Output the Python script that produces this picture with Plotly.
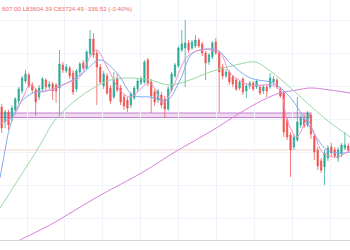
import plotly.graph_objects as go

# ---- candle data (BTC, price) ----
opens = [84154,84004,84104,84044,84124,84214,84314,84414,84474,84374,84324,84254,84334,84424,84354,84384,84374,84344,84574,84514,
         84544,84494,84334,84504,84594,84544,84684,84834,84694,84554,84364,84464,84344,84254,84444,84344,84254,84224,84174,84244,
         84334,84394,84404,84624,84404,84304,84224,84274,84234,84134,84324,84464,84564,84724,84744,84794,84744,84764,84824,84784,
         84694,84604,84654,84804,84694,84554,84464,84504,84454,84424,84344,84434,84314,84364,84394,84354,84354,84314,84354,84354,
         84404,84424,84334,84294,84024,83874,83754,83824,83974,84054,83974,84074,83864,83724,83614,83554,83644,83754,83724,83644,
         83684,83744,83764]
highs = [84184,84124,84124,84174,84254,84354,84464,84524,84494,84404,84344,84374,84454,84444,84414,84404,84394,84724,84604,84584,
         84564,84524,84534,84604,84624,84724,84924,84894,84724,84584,84514,84494,84374,84504,84494,84374,84284,84254,84304,84364,
         84434,84464,84624,84644,84434,84334,84334,84304,84264,84364,84504,84594,84764,84924,85024,84824,84824,84874,84844,84804,
         84714,84694,84814,84844,84714,84584,84534,84524,84474,84444,84424,84454,84384,84414,84414,84434,84374,84374,84374,84494,
         84464,84444,84354,84314,84044,83904,83884,84254,84074,84084,84114,84104,83894,83754,83644,83724,83774,83794,83754,83754,
         83794,83904,83794]
lows = [83894,83944,83924,84014,84094,84184,84284,84394,84344,84294,84064,84224,84314,84324,84334,84224,84194,84064,84494,84494,
        84434,84274,84304,84474,84524,84524,84664,84644,84174,84374,84334,84274,84184,84234,84304,84174,84124,84104,84144,84224,
        84304,84374,84384,84364,84094,84164,84194,84144,84044,84114,84304,84444,84544,84704,84354,84694,84724,84744,84744,84664,
        84424,84574,84634,84674,84104,84434,84444,84374,84354,84314,84324,84274,84244,84334,84314,84334,84274,84284,84254,84334,
        84374,84334,84244,83854,83824,83454,83724,83804,83944,83944,83954,83834,83624,83524,83494,83374,83614,83664,83644,83604,
        83654,83724,83694]
closes = [83944,84104,83974,84144,84234,84334,84444,84484,84364,84324,84204,84344,84434,84354,84384,84314,84314,84584,84524,84554,
          84464,84304,84514,84584,84544,84704,84834,84674,84554,84404,84484,84294,84214,84424,84324,84204,84164,84144,84284,84344,
          84414,84434,84604,84394,84264,84204,84314,84174,84134,84334,84484,84574,84744,84784,84794,84724,84804,84824,84764,84694,
          84594,84674,84794,84694,84504,84464,84504,84404,84384,84334,84404,84304,84364,84394,84334,84414,84294,84354,84314,84444,
          84434,84354,84264,83904,83854,83724,83854,84004,84044,83964,84094,83884,83704,83564,83524,83694,83744,83694,83664,83724,
          83774,83774,83724.49]

# ---- moving averages (x = candle index, y = price) ----
ma_fast_x = [-0.5, 3.3, 6.3, 8.3, 11.3, 14.2, 19.2, 23.0, 26.0, 28.0, 31.0, 34.8, 37.8, 43.6, 47.5, 50.4, 54.5, 58.4, 64.2, 67.2,
             73.1, 79.0, 81.9, 84.0, 86.9, 89.9, 91.6, 94.6, 98.7, 102.5]
ma_fast_y = [83994, 84054, 84254, 84374, 84304, 84324, 84394, 84454, 84654, 84724, 84554, 84324, 84254, 84394, 84194, 84354, 84654,
             84724, 84694, 84494, 84374, 84374, 84324, 84024, 83854, 84024, 83924, 83694, 83654, 83724]
ma_mid_x = [-0.5, 1.0, 2.4, 5.4, 9.2, 14.2, 19.2, 23.9, 28.9, 33.9, 38.6, 43.6, 48.7, 52.5, 56.3, 63.4, 67.2, 73.1, 79.8, 84.8,
            90.7, 95.7, 99.6, 102.5]
ma_mid_y = [83444, 83724, 83954, 84194, 84294, 84324, 84394, 84494, 84624, 84494, 84274, 84254, 84224, 84424, 84694, 84724, 84594,
            84444, 84394, 84254, 83954, 83724, 83694, 83704]
ma_slow_x = [-0.5, 10.4, 15.7, 20.1, 26.0, 31.9, 37.8, 43.6, 49.5, 55.4, 61.3, 70.1, 74.5, 79.8, 85.7, 89.9, 95.7, 102.5]
ma_slow_y = [83144, 83724, 84024, 84174, 84324, 84424, 84444, 84424, 84374, 84424, 84504, 84584, 84604, 84494, 84324, 84194, 84024,
             83854]
ma_long_x = [-0.5, 5.4, 14.2, 28.1, 41.6, 51.0, 62.2, 70.1, 76.9, 81.9, 86.9, 90.7, 96.6, 102.5]
ma_long_y = [82704, 82824, 82974, 83254, 83504, 83704, 83924, 84094, 84224, 84294, 84324, 84344, 84324, 84294]

# drawn zone (rectangle) and legend text
zone_top = 84094
zone_bottom = 84049
zone_start = -1.0
zone_end = 90.7
legend_text = "607.00 L83604.39 C83724.49 -336.52 (-0.40%)"

GREEN = "#2aa995"
RED = "#ef5350"

idx = list(range(len(opens)))
fig = go.Figure()

fig.add_trace(go.Scatter(x=ma_long_x, y=ma_long_y, mode="lines", line=dict(color="#d683d6", width=1, shape="spline"),
                         hoverinfo="skip"))
fig.add_trace(go.Scatter(x=ma_slow_x, y=ma_slow_y, mode="lines", line=dict(color="#98d9a8", width=1, shape="spline"),
                         hoverinfo="skip"))
fig.add_trace(go.Scatter(x=ma_mid_x, y=ma_mid_y, mode="lines", line=dict(color="#80adf2", width=1, shape="spline"),
                         hoverinfo="skip"))
fig.add_trace(go.Scatter(x=ma_fast_x, y=ma_fast_y, mode="lines", line=dict(color="#f291c3", width=1, shape="spline"),
                         hoverinfo="skip"))

fig.add_trace(go.Candlestick(
    x=idx, open=opens, high=highs, low=lows, close=closes,
    increasing=dict(line=dict(color="rgba(42,169,149,0.75)", width=1), fillcolor=GREEN),
    decreasing=dict(line=dict(color="rgba(239,83,80,0.75)", width=1), fillcolor=RED),
    whiskerwidth=0,
))

# zone rectangle
fig.add_shape(type="rect", xref="x", yref="y", x0=zone_start, x1=zone_end, y0=zone_bottom, y1=zone_top,
              line=dict(color="rgba(186,104,200,0.8)", width=1), fillcolor="rgba(225,190,231,0.55)", layer="below")
# last price line
fig.add_shape(type="line", xref="paper", yref="y", x0=0, x1=1, y0=closes[-1], y1=closes[-1],
              line=dict(color="rgba(239,83,80,0.28)", width=1), layer="below")

fig.add_annotation(text=legend_text, xref="paper", yref="paper", x=0, y=1 - 9 / 240, xanchor="left", yanchor="middle",
                   showarrow=False, font=dict(family="Liberation Sans, Arial", size=6.2, color="#f06a6a"))

fig.update_layout(
    width=350, height=250,
    margin=dict(l=0, r=0, t=0, b=10),
    paper_bgcolor="white", plot_bgcolor="white",
    showlegend=False, boxgap=0.45,
    xaxis=dict(range=[-0.5, 102.5], rangeslider=dict(visible=False), showticklabels=False, zeroline=False,
               showgrid=True, gridcolor="#f0f3fa", tickmode="linear", tick0=7.45, dtick=11.17,
               showline=True, linecolor="#d6d6d6", linewidth=1, ticks=""),
    yaxis=dict(range=[82824, 85224], showticklabels=False, zeroline=False, showgrid=True, gridcolor="#f0f3fa",
               tickmode="linear", tick0=85024, dtick=330, side="right"),
)

fig.write_html("out.html")
